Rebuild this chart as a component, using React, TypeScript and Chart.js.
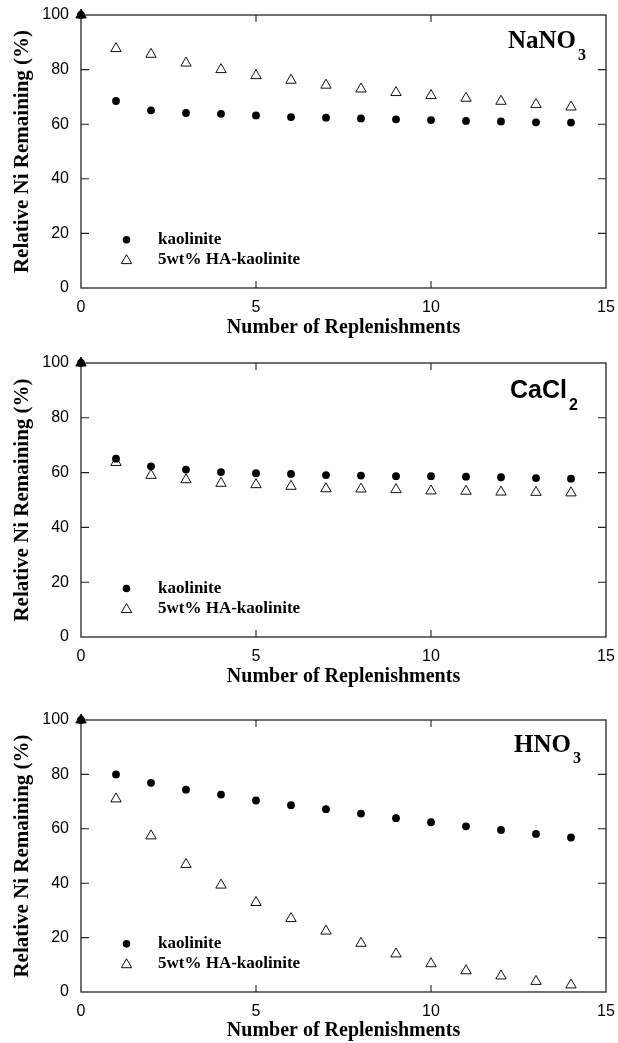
import React, { useEffect, useRef } from 'react';
import { Chart, registerables } from 'chart.js';

Chart.register(...registerables);

// ---------- data ----------
const replenishments = [0, 1, 2, 3, 4, 5, 6, 7, 8, 9, 10, 11, 12, 13, 14];
const xTickValues = [0, 5, 10, 15];
const yTickValues = [0, 20, 40, 60, 80, 100];
const seriesLabels = ['kaolinite', '5wt% HA-kaolinite'];

const nano3Kaolinite = [100, 68.5, 65.1, 64.1, 63.8, 63.2, 62.6, 62.4, 62.1, 61.8, 61.5, 61.2, 61.0, 60.7, 60.6];
const nano3HA = [100, 87.7, 85.6, 82.4, 80.0, 77.8, 76.1, 74.3, 72.9, 71.6, 70.5, 69.5, 68.4, 67.2, 66.3];

const cacl2Kaolinite = [100, 65.1, 62.3, 61.1, 60.2, 59.8, 59.5, 59.1, 58.9, 58.7, 58.7, 58.5, 58.3, 58.0, 57.8];
const cacl2HA = [100, 63.7, 59.0, 57.4, 56.1, 55.6, 55.0, 54.1, 54.0, 53.8, 53.3, 53.2, 52.9, 52.8, 52.6];

const hno3Kaolinite = [100, 80.0, 76.9, 74.4, 72.6, 70.4, 68.7, 67.2, 65.6, 63.9, 62.4, 60.9, 59.6, 58.1, 56.8];
const hno3HA = [100, 71.0, 57.4, 46.9, 39.3, 32.9, 27.0, 22.4, 17.9, 14.0, 10.4, 7.8, 5.9, 3.9, 2.6];

const xTitle = 'Number of Replenishments';
const yTitle = 'Relative Ni Remaining (%)';

// ---------- styling ----------
const SERIF = '"Liberation Serif", "Times New Roman", serif';
const SANS = '"Liberation Sans", Arial, sans-serif';
const INK = '#111';

type Annot = {
  main: string;
  sub: string;
  mainFont: string;
  subFont: string;
  fromRight: number;
  baseline: number;
  subDrop: number;
};

const annots: Record<string, Annot> = {
  nano3: { main: 'NaNO', sub: '3', mainFont: `bold 25px ${SERIF}`, subFont: `bold 16px ${SERIF}`, fromRight: 98, baseline: 33, subDrop: 12 },
  cacl2: { main: 'CaCl', sub: '2', mainFont: `bold 25px ${SANS}`, subFont: `bold 16px ${SANS}`, fromRight: 96, baseline: 35, subDrop: 12 },
  hno3: { main: 'HNO', sub: '3', mainFont: `bold 25px ${SERIF}`, subFont: `bold 16px ${SERIF}`, fromRight: 92, baseline: 32, subDrop: 11 },
};

function drawTriangle(ctx: CanvasRenderingContext2D, x: number, y: number, r: number) {
  ctx.beginPath();
  let rad = 0;
  ctx.moveTo(x + Math.sin(rad) * r, y - Math.cos(rad) * r);
  rad += (2 * Math.PI) / 3;
  ctx.lineTo(x + Math.sin(rad) * r, y - Math.cos(rad) * r);
  rad += (2 * Math.PI) / 3;
  ctx.lineTo(x + Math.sin(rad) * r, y - Math.cos(rad) * r);
  ctx.closePath();
}

const framePlugin = {
  id: 'frame',
  beforeDatasetsDraw(chart: any) {
    const { ctx, chartArea: a, scales } = chart;
    const xs = scales.x;
    const ys = scales.y;
    ctx.save();
    ctx.strokeStyle = '#222';
    ctx.lineWidth = 1.3;
    ctx.strokeRect(a.left, a.top, a.right - a.left, a.bottom - a.top);
    ctx.lineWidth = 1.1;
    ctx.beginPath();
    yTickValues.slice(1, -1).forEach((v) => {
      const py = ys.getPixelForValue(v);
      ctx.moveTo(a.left, py);
      ctx.lineTo(a.left + 8, py);
      ctx.moveTo(a.right, py);
      ctx.lineTo(a.right - 8, py);
    });
    xTickValues.slice(1, -1).forEach((v) => {
      const px = xs.getPixelForValue(v);
      ctx.moveTo(px, a.top);
      ctx.lineTo(px, a.top + 7);
      ctx.moveTo(px, a.bottom);
      ctx.lineTo(px, a.bottom - 7);
    });
    ctx.stroke();
    ctx.restore();
  },
};

const overlayPlugin = {
  id: 'overlay',
  afterDatasetsDraw(chart: any, _args: any, opts: any) {
    const { ctx, chartArea: a, scales } = chart;
    const xs = scales.x;
    const ys = scales.y;
    ctx.save();
    // legend
    const mx = xs.getPixelForValue(1.3);
    const tx = xs.getPixelForValue(2.2);
    const y1 = ys.getPixelForValue(17.7);
    const y2 = ys.getPixelForValue(10.4);
    ctx.fillStyle = '#000';
    ctx.beginPath();
    ctx.arc(mx, y1, 3.8, 0, Math.PI * 2);
    ctx.fill();
    ctx.strokeStyle = INK;
    ctx.lineWidth = 1;
    drawTriangle(ctx, mx, y2 + 1, 6);
    ctx.stroke();
    ctx.font = `bold 17px ${SERIF}`;
    ctx.textAlign = 'left';
    ctx.textBaseline = 'middle';
    ctx.fillText(seriesLabels[0], tx, y1);
    ctx.fillText(seriesLabels[1], tx, y2);

    // annotation
    const an: Annot = opts.annot;
    const sx = a.right - an.fromRight;
    const by = a.top + an.baseline;
    ctx.textBaseline = 'alphabetic';
    ctx.font = an.mainFont;
    ctx.fillText(an.main, sx, by);
    const w = ctx.measureText(an.main).width;
    ctx.font = an.subFont;
    ctx.fillText(an.sub, sx + w + 2, by + an.subDrop);
    ctx.restore();
  },
};

type PanelProps = {
  top: number;
  height: number;
  padTop: number;
  xHeight: number;
  kao: number[];
  ha: number[];
  annot: Annot;
};

function Panel({ top, height, padTop, xHeight, kao, ha, annot }: PanelProps) {
  const ref = useRef<HTMLCanvasElement>(null);
  useEffect(() => {
    const toPts = (arr: number[]) => replenishments.map((x, i) => ({ x, y: arr[i] }));
    const chart = new Chart(ref.current as HTMLCanvasElement, {
      type: 'scatter',
      data: {
        datasets: [
          {
            label: seriesLabels[1],
            data: toPts(ha),
            pointStyle: 'triangle',
            pointRadius: 6,
            pointBorderWidth: 1,
            pointBorderColor: INK,
            pointBackgroundColor: ha.map((_, i) => (i === 0 ? '#000' : 'rgba(255,255,255,0)')),
            clip: false as any,
          },
          {
            label: seriesLabels[0],
            data: toPts(kao),
            pointStyle: 'circle',
            pointRadius: 3.9,
            pointBorderWidth: 0,
            pointBackgroundColor: '#000',
            clip: false as any,
          },
        ],
      },
      options: {
        animation: false,
        responsive: false,
        devicePixelRatio: 1,
        layout: { padding: { top: padTop, right: 12, left: 0, bottom: 0 } },
        plugins: {
          legend: { display: false },
          tooltip: { enabled: false },
          overlay: { annot },
        } as any,
        scales: {
          x: {
            type: 'linear',
            min: 0,
            max: 15,
            afterBuildTicks: (s: any) => {
              s.ticks = xTickValues.map((v) => ({ value: v }));
            },
            afterFit: (s: any) => {
              s.height = xHeight;
              s.paddingLeft = 0;
              s.paddingRight = 0;
              s.paddingTop = 0;
              s.paddingBottom = 0;
            },
            grid: { display: false, drawTicks: false },
            border: { display: false },
            ticks: {
              color: '#000',
              padding: 10,
              maxRotation: 0,
              font: { family: SANS, size: 16 },
            },
            title: {
              display: true,
              text: xTitle,
              color: '#000',
              padding: { top: 0, bottom: 0 },
              font: { family: SERIF, size: 20, weight: 'bold' },
            },
          },
          y: {
            type: 'linear',
            min: 0,
            max: 100,
            afterBuildTicks: (s: any) => {
              s.ticks = yTickValues.map((v) => ({ value: v }));
            },
            afterFit: (s: any) => {
              s.width = 81;
              s.paddingLeft = 0;
              s.paddingRight = 0;
              s.paddingTop = 0;
              s.paddingBottom = 0;
            },
            grid: { display: false, drawTicks: false },
            border: { display: false },
            ticks: {
              color: '#000',
              padding: 12,
              font: { family: SANS, size: 16 },
            },
            title: {
              display: true,
              text: yTitle,
              color: '#000',
              padding: { top: 10, bottom: 0 },
              font: { family: SERIF, size: 21, weight: 'bold' },
            },
          },
        },
      },
      plugins: [framePlugin, overlayPlugin],
    });
    return () => chart.destroy();
  }, []);
  return (
    <canvas
      ref={ref}
      width={618}
      height={height}
      style={{ position: 'absolute', left: 0, top, width: 618, height, display: 'block' }}
    />
  );
}

export default function App() {
  return (
    <div
      style={{
        position: 'absolute',
        left: 0,
        top: 0,
        width: 618,
        height: 1043,
        overflow: 'hidden',
        background: '#fff',
      }}
    >
      <Panel top={0} height={340} padTop={15} xHeight={52} kao={nano3Kaolinite} ha={nano3HA} annot={annots.nano3} />
      <Panel top={349} height={340} padTop={14} xHeight={52} kao={cacl2Kaolinite} ha={cacl2HA} annot={annots.cacl2} />
      <Panel top={706} height={337} padTop={14} xHeight={51} kao={hno3Kaolinite} ha={hno3HA} annot={annots.hno3} />
    </div>
  );
}
